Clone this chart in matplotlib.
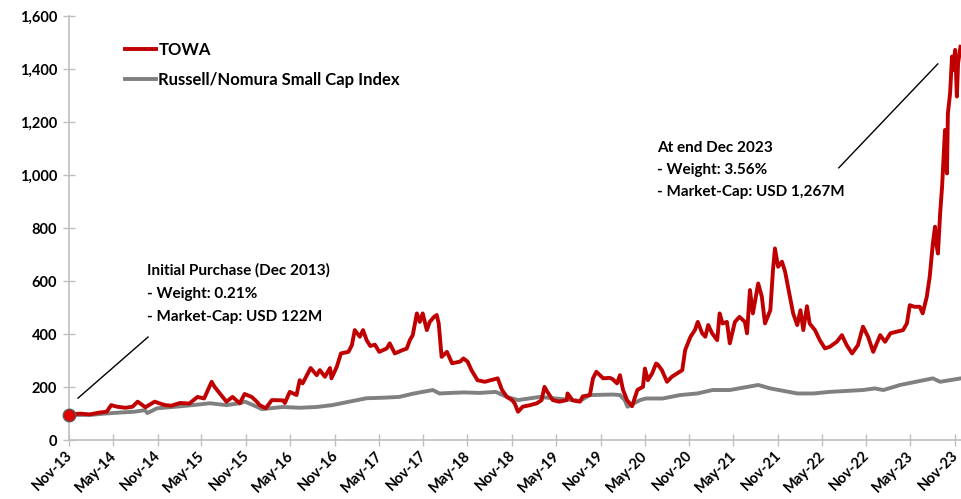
"""
TOWA vs Russell/Nomura Small Cap Index, rebased performance
"""
import matplotlib
matplotlib.use('Agg')
import matplotlib.pyplot    as plt
import matplotlib.dates     as mdates
import matplotlib.transforms as mtrans
import numpy                as np

# ###
# 1.Data
# ###
TOWA_DATES = ['2013-11-01', '2013-12-15', '2014-01-26', '2014-03-06', '2014-04-05', '2014-04-24',
              '2014-05-18', '2014-06-21', '2014-07-21', '2014-08-11', '2014-09-12', '2014-10-20',
              '2014-12-01', '2014-12-29', '2015-02-01', '2015-03-12', '2015-04-15', '2015-05-12',
              '2015-06-12', '2015-06-24', '2015-07-21', '2015-08-12', '2015-09-06', '2015-10-06',
              '2015-10-26', '2015-11-24', '2015-12-15', '2015-12-27', '2016-01-21', '2016-02-15',
              '2016-04-01', '2016-04-09', '2016-04-29', '2016-05-27', '2016-06-09', '2016-06-21',
              '2016-07-24', '2016-08-18', '2016-08-31', '2016-09-21', '2016-10-12', '2016-10-18',
              '2016-11-09', '2016-11-26', '2016-12-27', '2017-01-10', '2017-01-22', '2017-02-12',
              '2017-02-25', '2017-03-12', '2017-03-27', '2017-04-15', '2017-05-03', '2017-06-03',
              '2017-06-15', '2017-07-06', '2017-08-08', '2017-08-24', '2017-09-06', '2017-09-18',
              '2017-10-05', '2017-10-17', '2017-10-29', '2017-11-15', '2017-11-27', '2017-12-15',
              '2017-12-26', '2018-01-03', '2018-01-15', '2018-02-06', '2018-02-27', '2018-04-01',
              '2018-04-15', '2018-05-02', '2018-05-18', '2018-06-12', '2018-07-12', '2018-08-02',
              '2018-09-03', '2018-09-21', '2018-10-11', '2018-11-01', '2018-11-12', '2018-11-26',
              '2018-12-15', '2019-01-15', '2019-02-12', '2019-03-03', '2019-03-15', '2019-03-27',
              '2019-04-18', '2019-05-15', '2019-06-15', '2019-06-18', '2019-07-09', '2019-08-08',
              '2019-08-20', '2019-09-18', '2019-10-01', '2019-10-15', '2019-11-12', '2019-12-09',
              '2019-12-21', '2020-01-08', '2020-01-20', '2020-02-02', '2020-02-18', '2020-03-10',
              '2020-04-01', '2020-04-12', '2020-04-24', '2020-05-02', '2020-05-14', '2020-06-01',
              '2020-06-17', '2020-06-24', '2020-07-11', '2020-08-01', '2020-08-21', '2020-09-12',
              '2020-10-03', '2020-10-15', '2020-11-06', '2020-11-24', '2020-12-06', '2020-12-24',
              '2021-01-06', '2021-01-18', '2021-02-03', '2021-02-24', '2021-03-06', '2021-03-18',
              '2021-04-05', '2021-04-17', '2021-05-08', '2021-05-27', '2021-06-18', '2021-06-27',
              '2021-07-09', '2021-07-21', '2021-08-12', '2021-08-27', '2021-09-09', '2021-10-01',
              '2021-10-12', '2021-10-20', '2021-11-02', '2021-11-18', '2021-12-01', '2021-12-21',
              '2022-01-03', '2022-01-20', '2022-02-02', '2022-02-14', '2022-03-01', '2022-03-12',
              '2022-04-03', '2022-04-23', '2022-05-14', '2022-06-03', '2022-07-02', '2022-07-23',
              '2022-08-12', '2022-09-03', '2022-09-27', '2022-10-18', '2022-11-08', '2022-11-29',
              '2022-12-28', '2023-01-17', '2023-02-08', '2023-03-06', '2023-04-01', '2023-04-17',
              '2023-04-29', '2023-05-18', '2023-06-09', '2023-06-21', '2023-07-08', '2023-07-20',
              '2023-08-02', '2023-08-11', '2023-08-18', '2023-08-23', '2023-09-01', '2023-09-09',
              '2023-09-14', '2023-09-21', '2023-09-29', '2023-10-03', '2023-10-12', '2023-10-20',
              '2023-10-24', '2023-11-02', '2023-11-09', '2023-11-14', '2023-11-24']
TOWA_VALUES = [95, 100, 97, 104, 107, 132,
               126, 122, 126, 145, 124, 145,
               132, 130, 140, 138, 163, 157,
               220, 201, 170, 145, 163, 139,
               174, 163, 145, 132, 120, 151,
               150, 140, 182, 170, 226, 214,
               272, 245, 264, 239, 272, 233,
               277, 327, 333, 358, 415, 390,
               415, 377, 355, 360, 333, 346,
               365, 327, 340, 345, 377, 396,
               478, 446, 478, 415, 446, 465,
               472, 440, 314, 333, 290, 296,
               308, 296, 264, 226, 220, 225,
               233, 189, 163, 151, 139, 107,
               126, 132, 139, 151, 201, 182,
               151, 145, 151, 176, 150, 145,
               165, 170, 233, 258, 233, 235,
               230, 214, 245, 189, 151, 128,
               189, 195, 201, 270, 226, 252,
               289, 285, 264, 220, 239, 252,
               264, 340, 390, 415, 446, 403,
               390, 434, 403, 377, 478, 440,
               446, 365, 446, 465, 446, 403,
               566, 478, 591, 541, 440, 490,
               642, 723, 654, 673, 635, 541,
               478, 434, 490, 415, 505, 440,
               415, 377, 346, 352, 371, 396,
               358, 327, 358, 428, 390, 333,
               396, 371, 403, 409, 415, 440,
               509, 503, 503, 478, 541, 616,
               742, 805, 730, 704, 855, 956,
               1044, 1170, 1006, 1233, 1308, 1447,
               1396, 1472, 1296, 1422, 1484]

INDEX_DATES = ['2013-11-01', '2014-01-26', '2014-03-28', '2014-05-28', '2014-07-28', '2014-09-10',
               '2014-09-20', '2014-10-30', '2015-01-15', '2015-03-25', '2015-06-05', '2015-08-12',
               '2015-10-06', '2015-10-28', '2015-12-15', '2016-01-05', '2016-04-01', '2016-06-09',
               '2016-08-18', '2016-10-21', '2016-12-30', '2017-03-12', '2017-05-21', '2017-07-25',
               '2017-09-18', '2017-10-29', '2017-12-10', '2018-01-06', '2018-02-20', '2018-04-20',
               '2018-06-20', '2018-08-26', '2018-10-11', '2018-11-26', '2019-02-24', '2019-04-30',
               '2019-07-09', '2019-08-08', '2019-09-18', '2019-12-21', '2020-01-20', '2020-02-09',
               '2020-02-20', '2020-04-12', '2020-05-06', '2020-07-14', '2020-09-24', '2020-12-04',
               '2021-02-05', '2021-04-17', '2021-08-12', '2021-10-01', '2022-01-20', '2022-03-28',
               '2022-06-03', '2022-10-18', '2022-12-05', '2023-01-10', '2023-03-20', '2023-08-02',
               '2023-09-01', '2023-11-26']
INDEX_VALUES = [95, 95, 100, 104, 107, 113,
                102, 120, 126, 132, 139, 132,
                139, 145, 126, 117, 125, 122,
                125, 132, 145, 158, 160, 163,
                175, 182, 189, 176, 178, 180,
                178, 182, 163, 151, 163, 157,
                151, 148, 170, 172, 170, 151,
                126, 151, 157, 157, 170, 176,
                189, 189, 208, 195, 176, 176,
                182, 189, 195, 189, 208, 233,
                220, 233]

SERIES_NAMES = ['TOWA', 'Russell/Nomura Small Cap Index']
NOTE_START   = 'Initial Purchase (Dec 2013)\n- Weight: 0.21%\n- Market-Cap: USD 122M'
NOTE_END     = 'At end Dec 2023\n- Weight: 3.56%\n- Market-Cap: USD 1,267M'

# ###
# 2.Plot settings
# ###
COLOR_TOWA  = '#C00000'
COLOR_INDEX = '#808080'
COLOR_AXIS  = '#BFBFBF'
FONT_FAMILY = ['Lato', 'DejaVu Sans']
TICK_SIZE   = 10.5
NOTE_SIZE   = 11
LEGEND_SIZE = 12

plt.rcParams['font.family'] = FONT_FAMILY
plt.rcParams['font.weight'] = 'bold'

# ###
# 3.Draw
# ###
fig = plt.figure(figsize=(9.61, 4.99), dpi=100, facecolor='w')
ax  = fig.add_axes([0.0718, 0.118, 0.9282, 0.850])

towa_x  = np.array(TOWA_DATES, dtype='datetime64[D]')
index_x = np.array(INDEX_DATES, dtype='datetime64[D]')

ax.plot(towa_x, TOWA_VALUES, color=COLOR_TOWA, lw=2.8, label=SERIES_NAMES[0], solid_joinstyle='round', zorder=3)
ax.plot(index_x, INDEX_VALUES, color=COLOR_INDEX, lw=2.8, label=SERIES_NAMES[1], solid_joinstyle='round', zorder=2)
ax.plot(towa_x[:1], TOWA_VALUES[:1], 'o', ms=9, mfc='#E00000', mec='#595959', mew=1, clip_on=False, zorder=4)

ax.set_xlim(np.datetime64('2013-11-01'), np.datetime64('2023-11-26'))
ax.set_ylim(0, 1600)
ax.set_yticks(range(0, 1601, 200))
ax.yaxis.set_major_formatter(plt.FuncFormatter(lambda v, p: f'{int(v):,}'))
ax.xaxis.set_major_locator(mdates.MonthLocator(bymonth=(5, 11)))
ax.xaxis.set_major_formatter(mdates.DateFormatter('%b-%y'))

for side in ['top', 'right']:
    ax.spines[side].set_visible(False)
for side in ['left', 'bottom']:
    ax.spines[side].set_color(COLOR_AXIS)
    ax.spines[side].set_linewidth(1.2)

ax.tick_params(axis='y', direction='inout', length=9, width=1, color=COLOR_AXIS, labelsize=TICK_SIZE, pad=4)
ax.tick_params(axis='x', direction='inout', length=8, width=1, color=COLOR_AXIS, labelsize=TICK_SIZE, pad=2)
shift = mtrans.ScaledTranslation(-4 / 100, 0, fig.dpi_scale_trans)
for lbl in ax.get_xticklabels():
    lbl.set_rotation(45)
    lbl.set_ha('right')
    lbl.set_va('top')
    lbl.set_rotation_mode('anchor')
    lbl.set_transform(lbl.get_transform() + shift)

ax.legend(loc='upper left', bbox_to_anchor=(0.055, 0.955), frameon=False, fontsize=LEGEND_SIZE,
          handlelength=1.9, handletextpad=0.12, labelspacing=0.85, borderaxespad=0)

# Annotations
ax.text(0.0874, 0.418, NOTE_START, transform=ax.transAxes, fontsize=NOTE_SIZE, va='top', ha='left', linespacing=1.85)
ax.plot([0.0101, 0.0886], [0.099, 0.243], color='black', lw=1, transform=ax.transAxes)
ax.text(0.659, 0.706, NOTE_END, transform=ax.transAxes, fontsize=NOTE_SIZE, va='top', ha='left', linespacing=1.75)
ax.plot([0.863, 0.974], [0.642, 0.887], color='black', lw=1, transform=ax.transAxes)

fig.savefig('out.png', dpi=100, facecolor='w')
plt.close(fig)
